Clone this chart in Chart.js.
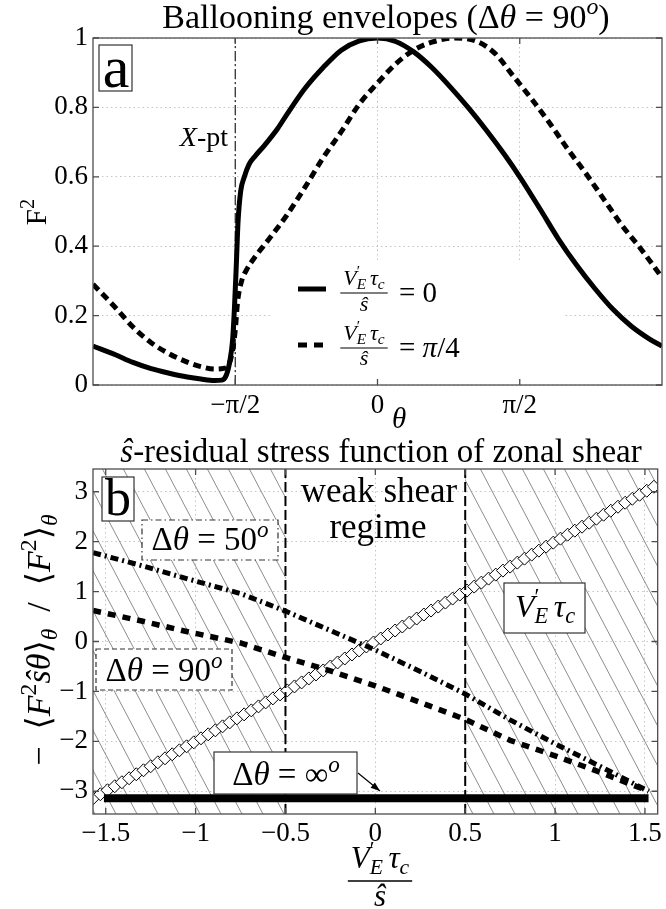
<!DOCTYPE html>
<html>
<head>
<meta charset="utf-8">
<script src="https://cdn.jsdelivr.net/npm/chart.js@4.4.0/dist/chart.umd.min.js"></script>
<style>
  body { margin: 0; background: #fff; }
  #wrap { position: relative; width: 666px; height: 909px; }
  canvas { position: absolute; left: 0; }
</style>
</head>
<body>
<div id="wrap">
  <canvas id="chartA" width="666" height="440" style="top:0"></canvas>
  <canvas id="chartB" width="666" height="484" style="top:425px"></canvas>
</div>
<script>
// ---- Panel a: ballooning envelopes ----
const thetaTicks = [-Math.PI / 2, 0, Math.PI / 2];
const thetaTickLabels = ["\u2212\u03c0/2", "0", "\u03c0/2"];
const f2Ticks = [0, 0.2, 0.4, 0.6, 0.8, 1];
const f2TickLabels = ["0", "0.2", "0.4", "0.6", "0.8", "1"];

// V'_E tau_c / s = 0
const thetaShear0 = [-3.1416, -2.9, -2.7, -2.5, -2.3, -2.1, -1.95, -1.8, -1.72, -1.67, -1.63, -1.6, -1.58, -1.56, -1.54, -1.51, -1.47, -1.42, -1.35, -1.25, -1.1, -1.0, -0.8, -0.6, -0.4, -0.2, 0.0, 0.2, 0.4, 0.6, 0.8, 1.0, 1.2, 1.4, 1.571, 1.8, 2.0, 2.2, 2.4, 2.6, 2.8, 3.0, 3.1416];
const f2Shear0 = [0.112, 0.088, 0.065, 0.047, 0.034, 0.023, 0.017, 0.013, 0.014, 0.028, 0.07, 0.13, 0.22, 0.34, 0.47, 0.56, 0.6, 0.635, 0.66, 0.69, 0.74, 0.78, 0.855, 0.915, 0.965, 0.992, 1.0, 0.99, 0.96, 0.915, 0.86, 0.8, 0.735, 0.665, 0.6, 0.505, 0.42, 0.345, 0.278, 0.218, 0.17, 0.133, 0.112];

// V'_E tau_c / s = pi/4
const thetaShearPi4 = [-3.1416, -2.9, -2.7, -2.5, -2.3, -2.1, -1.95, -1.8, -1.7, -1.64, -1.6, -1.57, -1.545, -1.5, -1.45, -1.35, -1.2, -1.0, -0.8, -0.6, -0.4, -0.2, 0.0, 0.2, 0.4, 0.6, 0.85, 1.1, 1.3, 1.5, 1.7, 1.9, 2.1, 2.3, 2.5, 2.7, 2.9, 3.1416];
const f2ShearPi4 = [0.29, 0.225, 0.167, 0.122, 0.09, 0.066, 0.053, 0.046, 0.048, 0.06, 0.1, 0.16, 0.24, 0.3, 0.33, 0.37, 0.42, 0.49, 0.57, 0.655, 0.73, 0.81, 0.87, 0.925, 0.965, 0.988, 1.0, 0.99, 0.955, 0.89, 0.825, 0.755, 0.68, 0.61, 0.535, 0.46, 0.395, 0.31];

// X-point marker line
const xptTheta = [-Math.PI / 2, -Math.PI / 2];
const xptF2 = [0, 1];

// ---- Panel b: s-residual stress vs zonal shear ----
const shearTicks = [-1.5, -1, -0.5, 0, 0.5, 1, 1.5];
const shearTickLabels = ["\u22121.5", "\u22121", "\u22120.5", "0", "0.5", "1", "1.5"];
const stressTicks = [-3, -2, -1, 0, 1, 2, 3];
const stressTickLabels = ["\u22123", "\u22122", "\u22121", "0", "1", "2", "3"];

const shearX = [-1.57, -1.3, -1.05, -0.75, -0.5, -0.25, 0, 0.25, 0.5, 0.75, 1.0, 1.25, 1.52];
const stressDt50 = [1.78, 1.52, 1.26, 0.96, 0.61, 0.22, -0.17, -0.6, -1.05, -1.57, -2.05, -2.5, -3.0];
const stressDt90 = [0.62, 0.41, 0.2, -0.03, -0.32, -0.59, -0.89, -1.22, -1.56, -1.98, -2.29, -2.62, -3.0];

const shearInfX = [-1.51, 1.52];
const stressInf = [-3.1416, -3.1416];

const veX = [-1.57, -1.53, -1.49, -1.45, -1.41, -1.37, -1.33, -1.29, -1.25, -1.21, -1.17, -1.13, -1.09, -1.05, -1.01, -0.97, -0.93, -0.89, -0.85, -0.81, -0.77, -0.73, -0.69, -0.65, -0.61, -0.57, -0.53, -0.49, -0.45, -0.41, -0.37, -0.33, -0.29, -0.25, -0.21, -0.17, -0.13, -0.09, -0.05, -0.01, 0.03, 0.07, 0.11, 0.15, 0.19, 0.23, 0.27, 0.31, 0.35, 0.39, 0.43, 0.47, 0.51, 0.55, 0.59, 0.63, 0.67, 0.71, 0.75, 0.79, 0.83, 0.87, 0.91, 0.95, 0.99, 1.03, 1.07, 1.11, 1.15, 1.19, 1.23, 1.27, 1.31, 1.35, 1.39, 1.43, 1.47, 1.51, 1.55];
const veTau = [-3.14, -3.06, -2.98, -2.90, -2.82, -2.74, -2.66, -2.58, -2.50, -2.42, -2.34, -2.26, -2.18, -2.10, -2.02, -1.94, -1.86, -1.78, -1.70, -1.62, -1.54, -1.46, -1.38, -1.30, -1.22, -1.14, -1.06, -0.98, -0.90, -0.82, -0.74, -0.66, -0.58, -0.50, -0.42, -0.34, -0.26, -0.18, -0.10, -0.02, 0.06, 0.14, 0.22, 0.30, 0.38, 0.46, 0.54, 0.62, 0.70, 0.78, 0.86, 0.94, 1.02, 1.10, 1.18, 1.26, 1.34, 1.42, 1.50, 1.58, 1.66, 1.74, 1.82, 1.90, 1.98, 2.06, 2.14, 2.22, 2.30, 2.38, 2.46, 2.54, 2.62, 2.70, 2.78, 2.86, 2.94, 3.02, 3.10];

// weak shear regime limits and hatched (strong shear) bands
const weakShearEdges = [-0.5, 0.5];
const stressRange = [-1.1 * Math.PI, 1.1 * Math.PI];
const hatchBands = [[-Math.PI / 2, -0.5], [0.5, Math.PI / 2]];

const SERIF = "'Liberation Serif', 'DejaVu Serif', serif";
const B_TOP = 425; // page offset of the lower canvas
Chart.defaults.font.family = SERIF;

function pts(xs, ys) {
  return xs.map((x, i) => ({ x: x, y: ys[i] }));
}

// tiny rich-text helper: segments {t, i: italic, s: 'sup'|'sub', back: don't advance}
function segFont(g, size) {
  const sz = g.s ? size * 0.7 : size;
  return (g.i ? "italic " : "") + sz.toFixed(1) + "px " + SERIF;
}
function richWidth(ctx, segs, size) {
  let w = 0;
  segs.forEach(g => {
    ctx.font = segFont(g, size);
    if (!g.back) w += ctx.measureText(g.t).width;
  });
  return w;
}
function drawRich(ctx, segs, x, y, size, align) {
  const w = richWidth(ctx, segs, size);
  let cx = align === "center" ? x - w / 2 : align === "right" ? x - w : x;
  ctx.textAlign = "left";
  ctx.textBaseline = "alphabetic";
  ctx.fillStyle = "#000";
  segs.forEach(g => {
    ctx.font = segFont(g, size);
    const dy = g.s === "sup" ? -0.4 * size : g.s === "sub" ? 0.2 * size : 0;
    ctx.fillText(g.t, cx, y + dy);
    if (!g.back) cx += ctx.measureText(g.t).width;
  });
  return w;
}
const veSegs = [
  { t: "V", i: 1 }, { t: "\u2032", s: "sup", back: 1 }, { t: "E ", i: 1, s: "sub" },
  { t: "\u03c4", i: 1 }, { t: "c", i: 1, s: "sub" }
];
const shatSegs = [{ t: "\u015d", i: 1 }];

function drawFrac(ctx, num, den, cx, barY, size, numGap, denGap) {
  const wn = richWidth(ctx, num, size);
  const wd = richWidth(ctx, den, size);
  const bw = Math.max(wn, wd) + 6;
  drawRich(ctx, num, cx, barY - numGap, size, "center");
  drawRich(ctx, den, cx, barY + denGap, size, "center");
  ctx.save();
  ctx.strokeStyle = "#000";
  ctx.lineWidth = Math.max(1, size / 20);
  ctx.setLineDash([]);
  ctx.beginPath();
  ctx.moveTo(cx - bw / 2, barY);
  ctx.lineTo(cx + bw / 2, barY);
  ctx.stroke();
  ctx.restore();
}

function textBox(ctx, x0, y0, x1, y1, dash) {
  ctx.save();
  ctx.fillStyle = "#fff";
  ctx.fillRect(x0, y0, x1 - x0, y1 - y0);
  ctx.strokeStyle = "#333";
  ctx.lineWidth = 1.2;
  ctx.setLineDash(dash || []);
  ctx.strokeRect(x0, y0, x1 - x0, y1 - y0);
  ctx.restore();
}

// MATLAB-like box with inward ticks on all four sides
const axesBox = {
  id: "axesBox",
  afterDraw(chart) {
    const { ctx, chartArea: a, scales } = chart;
    ctx.save();
    ctx.strokeStyle = "#4d4d4d";
    ctx.lineWidth = 1.3;
    ctx.setLineDash([]);
    ctx.strokeRect(a.left, a.top, a.right - a.left, a.bottom - a.top);
    ctx.beginPath();
    scales.x.ticks.forEach(t => {
      const px = scales.x.getPixelForValue(t.value);
      ctx.moveTo(px, a.bottom); ctx.lineTo(px, a.bottom - 6);
      ctx.moveTo(px, a.top); ctx.lineTo(px, a.top + 6);
    });
    scales.y.ticks.forEach(t => {
      const py = scales.y.getPixelForValue(t.value);
      ctx.moveTo(a.left, py); ctx.lineTo(a.left + 6, py);
      ctx.moveTo(a.right, py); ctx.lineTo(a.right - 6, py);
    });
    ctx.stroke();
    ctx.restore();
  }
};

function axisOpts(min, max, ticks, labels, pad, extra) {
  return Object.assign({
    type: "linear",
    min: min,
    max: max,
    afterBuildTicks: s => { s.ticks = ticks.map(v => ({ value: v })); },
    ticks: {
      callback: (v, i) => labels[i],
      font: { family: SERIF, size: 27 },
      color: "#000",
      padding: pad,
      maxRotation: 0,
      autoSkip: false
    },
    grid: { color: "#c4c4c4", lineWidth: 1, drawTicks: false },
    border: { display: false, dash: [1.5, 3] }
  }, extra);
}

// ---------- Panel a ----------
const panelAText = {
  id: "panelAText",
  beforeDatasetsDraw(chart) {
    const ctx = chart.ctx;
    ctx.save();
    ctx.fillStyle = "#fff";
    ctx.fillRect(270, 262, 293, 122);
    ctx.restore();
  },
  afterDraw(chart) {
    const ctx = chart.ctx;
    drawRich(ctx, [{ t: "Ballooning envelopes (" }, { t: "\u0394" }, { t: "\u03b8", i: 1 }, { t: " = 90" }, { t: "o", i: 1, s: "sup" }, { t: ")" }], 386, 28, 34, "center");
    textBox(ctx, 99, 45, 132, 91);
    drawRich(ctx, [{ t: "a" }], 116, 87, 60, "center");
    drawRich(ctx, [{ t: "X", i: 1 }, { t: "-pt" }], 228, 146, 28, "right");
    // y label
    ctx.save();
    ctx.translate(46, 212);
    ctx.rotate(-Math.PI / 2);
    drawRich(ctx, [{ t: "F" }, { t: "2", s: "sup" }], 0, 0, 29, "center");
    ctx.restore();
    drawRich(ctx, [{ t: "\u03b8", i: 1 }], 399, 428, 29, "center");
    // legend
    ctx.save();
    ctx.strokeStyle = "#000";
    ctx.lineWidth = 5;
    ctx.beginPath(); ctx.moveTo(298, 289); ctx.lineTo(326, 289); ctx.stroke();
    ctx.setLineDash([9, 7]);
    ctx.beginPath(); ctx.moveTo(298, 345); ctx.lineTo(323, 345); ctx.stroke();
    ctx.restore();
    drawFrac(ctx, veSegs, shatSegs, 364, 293, 22, 8, 18);
    drawRich(ctx, [{ t: "= 0" }], 399, 302, 29, "left");
    drawFrac(ctx, veSegs, shatSegs, 364, 348, 22, 8, 17);
    drawRich(ctx, [{ t: "= " }, { t: "\u03c0", i: 1 }, { t: "/4" }], 399, 357, 29, "left");
  }
};

new Chart(document.getElementById("chartA"), {
  type: "scatter",
  data: {
    datasets: [
      {
        data: pts(thetaShear0, f2Shear0), showLine: true, pointRadius: 0,
        borderColor: "#000", borderWidth: 5, cubicInterpolationMode: "monotone"
      },
      {
        data: pts(thetaShearPi4, f2ShearPi4), showLine: true, pointRadius: 0,
        borderColor: "#000", borderWidth: 5, borderDash: [8, 5], borderCapStyle: "butt",
        cubicInterpolationMode: "monotone"
      },
      {
        data: pts(xptTheta, xptF2), showLine: true, pointRadius: 0,
        borderColor: "#222", borderWidth: 1.2, borderDash: [10, 3, 2, 3]
      }
    ]
  },
  options: {
    responsive: false,
    animation: false,
    events: [],
    layout: { padding: { top: 38, right: 4, left: 0, bottom: 0 } },
    plugins: { legend: { display: false }, tooltip: { enabled: false } },
    scales: {
      x: axisOpts(-Math.PI, Math.PI, thetaTicks, thetaTickLabels, 5, {
        afterFit: s => { s.height = 55; }
      }),
      y: axisOpts(0, 1, f2Ticks, f2TickLabels, 5, {
        afterFit: s => { s.width = 93; }
      })
    }
  },
  plugins: [panelAText, axesBox]
});

// ---------- Panel b ----------
const hatch = {
  id: "hatch",
  beforeDatasetsDraw(chart) {
    const { ctx, chartArea: a, scales: { x } } = chart;
    const slope = 1.9;
    const run = (a.bottom - a.top) / slope;
    ctx.save();
    ctx.strokeStyle = "#808080";
    ctx.lineWidth = 0.9;
    hatchBands.forEach(b => {
      const p0 = x.getPixelForValue(b[0]);
      const p1 = x.getPixelForValue(b[1]);
      ctx.save();
      ctx.beginPath();
      ctx.rect(p0, a.top, p1 - p0, a.bottom - a.top);
      ctx.clip();
      ctx.beginPath();
      for (let sx = a.left - run - 40; sx < a.right + 40; sx += 21) {
        ctx.moveTo(sx, a.top);
        ctx.lineTo(sx + run, a.bottom);
      }
      ctx.stroke();
      ctx.restore();
    });
    ctx.restore();
  }
};

const panelBText = {
  id: "panelBText",
  afterDraw(chart) {
    const ctx = chart.ctx;
    const Y = y => y - B_TOP; // page y -> canvas y
    drawRich(ctx, [{ t: "\u015d", i: 1 }, { t: "-residual stress function of zonal shear" }], 381, Y(462), 33, "center");
    textBox(ctx, 102, Y(477), 134, Y(521));
    drawRich(ctx, [{ t: "b" }], 118, Y(515), 52, "center");
    drawRich(ctx, [{ t: "weak shear" }], 379, Y(502), 35, "center");
    drawRich(ctx, [{ t: "regime" }], 378, Y(538), 35, "center");

    const dt = deg => [{ t: "\u0394" }, { t: "\u03b8", i: 1 }, { t: " = " + deg }, { t: "o", i: 1, s: "sup" }];
    textBox(ctx, 142, Y(520), 278, Y(560), [6, 3, 1.5, 3]);
    drawRich(ctx, dt("50"), 210, Y(550), 33, "center");
    textBox(ctx, 96, Y(649), 232, Y(690), [5, 3]);
    drawRich(ctx, dt("90"), 164, Y(681), 33, "center");
    textBox(ctx, 214, Y(752), 357, Y(794));
    drawRich(ctx, dt("\u221e"), 286, Y(785), 33, "center");
    textBox(ctx, 504, Y(583), 585, Y(633));
    drawRich(ctx, veSegs, 545, Y(617), 32, "center");

    // arrow to the infinite-width line
    ctx.save();
    ctx.strokeStyle = "#000";
    ctx.fillStyle = "#000";
    ctx.lineWidth = 1.2;
    const x0 = 358, y0 = Y(773), x1 = 380, y1 = Y(791);
    const ang = Math.atan2(y1 - y0, x1 - x0);
    ctx.beginPath(); ctx.moveTo(x0, y0); ctx.lineTo(x1, y1); ctx.stroke();
    ctx.beginPath();
    ctx.moveTo(x1, y1);
    ctx.lineTo(x1 - 10 * Math.cos(ang - 0.35), y1 - 10 * Math.sin(ang - 0.35));
    ctx.lineTo(x1 - 10 * Math.cos(ang + 0.35), y1 - 10 * Math.sin(ang + 0.35));
    ctx.closePath();
    ctx.fill();
    ctx.restore();

    // axis labels
    drawFrac(ctx, veSegs, shatSegs, 380, Y(881), 31, 13, 25);
    ctx.save();
    ctx.translate(50, Y(640));
    ctx.rotate(-Math.PI / 2);
    drawRich(ctx, [
      { t: "\u2212  \u27e8" }, { t: "F", i: 1 }, { t: "2", s: "sup" }, { t: "\u015d\u03b8", i: 1 }, { t: "\u27e9" },
      { t: "\u03b8", i: 1, s: "sub" }, { t: "  /  \u27e8" }, { t: "F", i: 1 }, { t: "2", s: "sup" }, { t: "\u27e9" },
      { t: "\u03b8", i: 1, s: "sub" }
    ], 0, 0, 34, "center");
    ctx.restore();
  }
};

new Chart(document.getElementById("chartB"), {
  type: "scatter",
  data: {
    datasets: [
      {
        data: pts([weakShearEdges[0], weakShearEdges[0]], stressRange), showLine: true, pointRadius: 0,
        borderColor: "#000", borderWidth: 2, borderDash: [10, 4], order: 0
      },
      {
        data: pts([weakShearEdges[1], weakShearEdges[1]], stressRange), showLine: true, pointRadius: 0,
        borderColor: "#000", borderWidth: 2, borderDash: [10, 4], order: 0
      },
      {
        data: pts(shearX, stressDt50), showLine: true, pointRadius: 0,
        borderColor: "#000", borderWidth: 5, borderDash: [8, 4, 2, 4], borderCapStyle: "butt", order: 1
      },
      {
        data: pts(shearX, stressDt90), showLine: true, pointRadius: 0,
        borderColor: "#000", borderWidth: 5.5, borderDash: [8, 7], borderCapStyle: "butt", order: 1
      },
      {
        data: pts(shearInfX, stressInf), showLine: true, pointRadius: 0,
        borderColor: "#000", borderWidth: 8, borderCapStyle: "butt", order: 1
      },
      {
        data: pts(veX, veTau), showLine: false, pointStyle: "rectRot", pointRadius: 6.5,
        backgroundColor: "#fff", borderColor: "#000", borderWidth: 1, order: 2
      }
    ]
  },
  options: {
    responsive: false,
    animation: false,
    events: [],
    layout: { padding: { top: 469 - B_TOP, right: 4, left: 0, bottom: 0 } },
    plugins: { legend: { display: false }, tooltip: { enabled: false } },
    scales: {
      x: axisOpts(-Math.PI / 2, Math.PI / 2, shearTicks, shearTickLabels, 4, {
        afterFit: s => { s.height = 95; }
      }),
      y: axisOpts(stressRange[0], stressRange[1], stressTicks, stressTickLabels, 5, {
        afterFit: s => { s.width = 93; }
      })
    }
  },
  plugins: [hatch, panelBText, axesBox]
});
</script>
</body>
</html>
